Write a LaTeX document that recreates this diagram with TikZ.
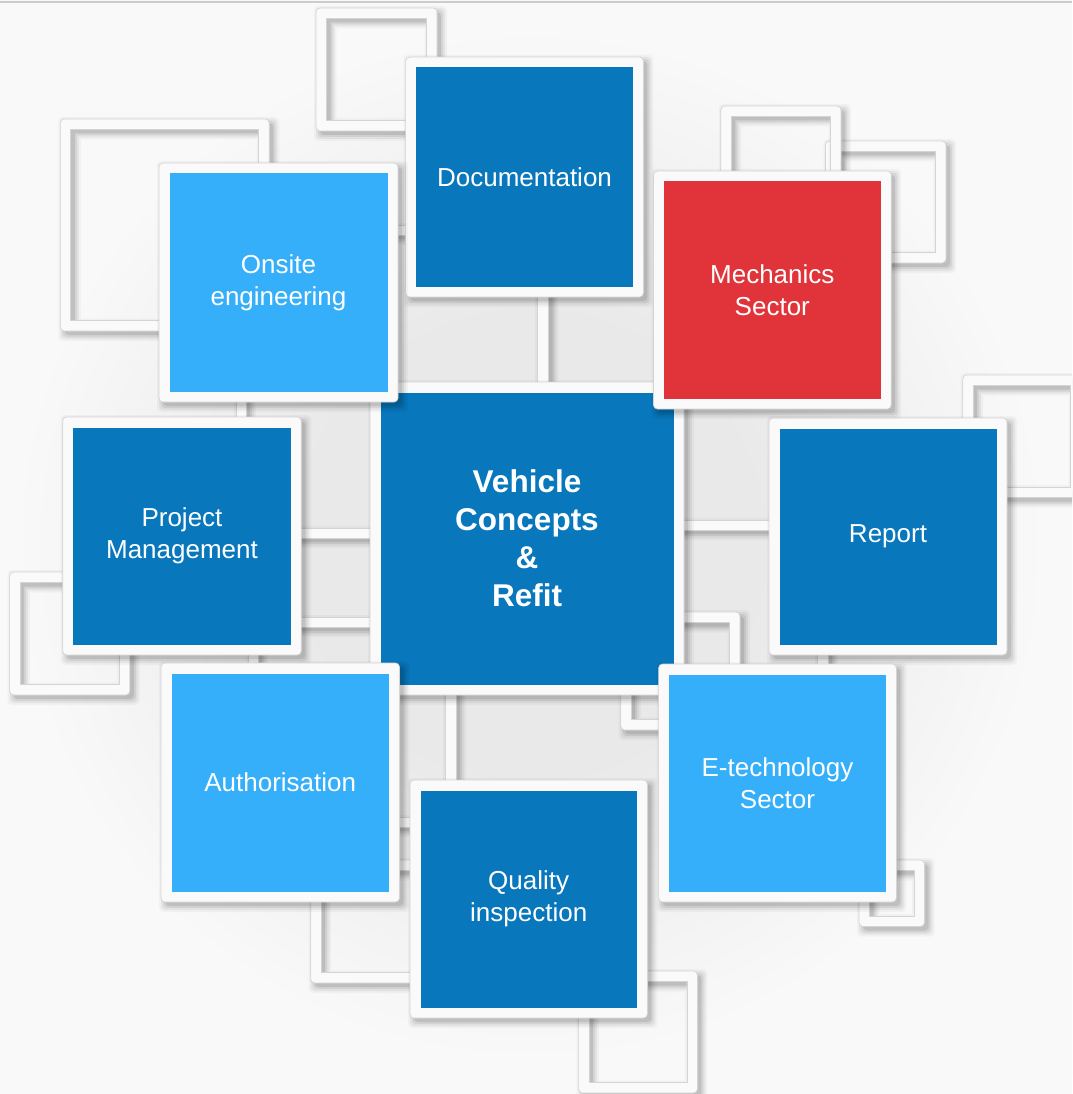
\documentclass[tikz,border=0pt]{standalone}
\usepackage{fontspec}
\setmainfont{Liberation Sans}
\definecolor{bgout}{RGB}{249,249,249}
\definecolor{bgin}{RGB}{233,233,233}
\definecolor{topline}{RGB}{204,204,204}
\definecolor{framewhite}{RGB}{250,250,250}
\definecolor{frameline}{RGB}{212,212,212}
\definecolor{cdark}{RGB}{8,119,188}
\definecolor{clight}{RGB}{53,175,250}
\definecolor{cred}{RGB}{225,51,58}
\pgfdeclareradialshading{bgglow}{\pgfpoint{0bp}{0bp}}{color(0bp)=(bgin); color(7.5bp)=(bgin); color(17bp)=(bgout); color(50bp)=(bgout)}

\tikzset{
  shadowlayer/.style={fill=black, opacity=#1},
  rimline/.style={draw=frameline, line width=0.7pt},
  paneltext/.style={text=white, align=center, inner sep=0pt, font=\fontsize{26}{32}\selectfont},
  centertext/.style={text=white, align=center, inner sep=0pt, font=\bfseries\fontsize{31.5}{38}\selectfont},
}

% soft drop shadow of a filled box
\newcommand\softshadow[4]{%
  \foreach \sh/\op in {0/0.09,2/0.07,4/0.05,6/0.03}{%
    \path[shadowlayer=\op, rounded corners=4] ({#1+4-\sh},{#2+4-\sh}) rectangle ({#3+4+\sh},{#4+4+\sh});
  }}
% soft drop shadow of a hollow frame
\newcommand\ringshadow[4]{%
  \foreach \sh/\op in {0/0.09,2/0.07,4/0.05,6/0.03}{%
    \path[shadowlayer=\op, even odd rule, rounded corners=4] ({#1+4-\sh},{#2+4-\sh}) rectangle ({#3+4+\sh},{#4+4+\sh}) [sharp corners] ({#1+14.5+\sh},{#2+14.5+\sh}) rectangle ({#3-6.5-\sh},{#4-6.5-\sh});
  }}
% hollow white frame
\newcommand\ring[4]{%
  \ringshadow{#1}{#2}{#3}{#4}
  \fill[framewhite, even odd rule, rounded corners=4] (#1,#2) rectangle (#3,#4) [sharp corners] ({#1+10.5},{#2+10.5}) rectangle ({#3-10.5},{#4-10.5});
  \draw[rimline, rounded corners=4] (#1,#2) rectangle (#3,#4);
  \draw[rimline] ({#1+10.5},{#2+10.5}) rectangle ({#3-10.5},{#4-10.5});
}
% white bar (edge of a hidden frame)
\newcommand\strip[4]{%
  \softshadow{#1}{#2}{#3}{#4}
  \draw[rimline, fill=framewhite] (#1,#2) rectangle (#3,#4);
}
% coloured panel in a white frame
\newcommand\panel[8]{%
  \softshadow{#2}{#3}{#4}{#5}
  \draw[rimline, fill=framewhite, rounded corners=4] (#2,#3) rectangle (#4,#5);
  \fill[#6] ({#2+10.5},{#3+10.5}) rectangle ({#4-10.5},{#5-10.5});
  \node[#7] (#1) at ({(#2+#4)/2},{(#3+#5)/2}) {#8};
}

\begin{document}
\begin{tikzpicture}[x=1pt,y=-1pt]
\useasboundingbox (0,0) rectangle (1072,1094);
\clip (0,0) rectangle (1072,1094);
\fill[bgout] (0,0) rectangle (1072,1094);
\shade[shading=bgglow] (530,545) circle [radius=760];
\fill[topline] (0,0.8) rectangle (1072,3.2);

% background frames
\ring{60.3}{119}{269.3}{331}
\ring{316}{8}{437}{131}
\ring{825.5}{141}{946}{263}
\ring{720.8}{106}{841}{226}
\ring{9.6}{572}{129.8}{695}
\ring{962.7}{375}{1081}{497.5}
\ring{620.7}{612}{740}{730}
\ring{310.7}{860}{430}{983}
\ring{578.6}{971}{697.4}{1093}
\ring{859}{860}{924.5}{926.5}

% bars between the panels
\strip{537}{285}{548.5}{395}
\strip{445}{690}{456}{790}
\strip{290}{528}{380}{538}
\strip{290}{617}{380}{627}
\strip{675}{520}{775}{530}
\strip{236}{395}{246}{425}
\strip{248}{648}{258}{670}
\strip{817}{648}{828}{670}
\strip{390}{225}{415}{235}
\strip{390}{817}{420}{827}

% panels
\panel{doc}{405.6}{57}{643.4}{297}{cdark}{paneltext}{Documentation}
\panel{pm}{62.7}{417}{301.3}{655}{cdark}{paneltext}{Project\\Management}
\panel{report}{769}{418}{1007}{655}{cdark}{paneltext}{Report}
\panel{quality}{410}{780}{647.4}{1018}{cdark}{paneltext}{Quality\\inspection}
\panel{core}{370}{382}{684}{695}{cdark}{centertext}{Vehicle\\Concepts\\\&\\Refit}
\panel{onsite}{159}{163}{398}{402}{clight}{paneltext}{Onsite\\engineering}
\panel{mech}{653.4}{171}{891.2}{409}{cred}{paneltext}{Mechanics\\Sector}
\panel{auth}{161}{663}{399.5}{902}{clight}{paneltext}{Authorisation}
\panel{etech}{658.6}{664}{896.4}{902}{clight}{paneltext}{E-technology\\Sector}
\end{tikzpicture}
\end{document}
